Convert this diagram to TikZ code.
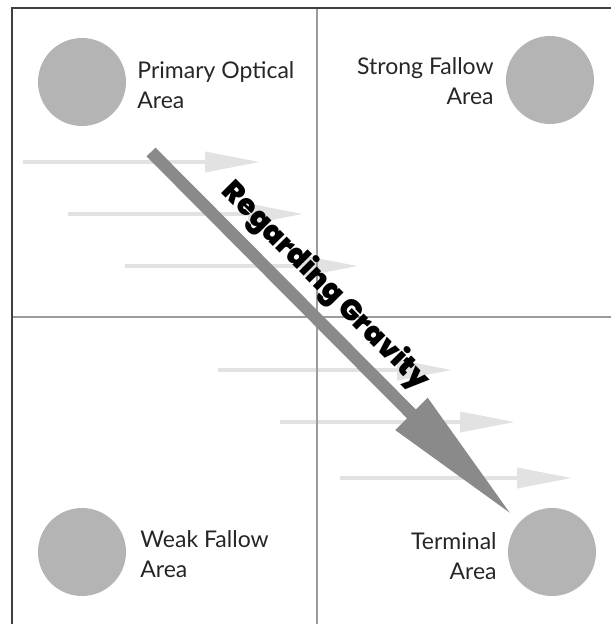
\documentclass[tikz,border=0pt]{standalone}
\usepackage{fontspec}
\setmainfont{Lato}
\newfontfamily\heavyfont{Poppins Black}
\usetikzlibrary{positioning,arrows.meta}
\definecolor{dotgray}{HTML}{B4B4B4}
\definecolor{flowgray}{HTML}{E2E2E2}
\definecolor{gravgray}{HTML}{8A8A8A}
\definecolor{gridgray}{HTML}{9C9C9C}

\begin{document}
\begin{tikzpicture}[
		x=1pt, y=-1pt,
		node distance=12pt,
		area/.style={
			circle,
			fill=dotgray,
			minimum size=88pt,
			inner sep=0pt
		},
		arealabel/.style={
			inner sep=0pt,
			text=black!85,
			font=\fontsize{23}{30}\selectfont
		},
		flow/.style={
			draw=flowgray,
			line width=4pt,
			-{Triangle[length=55pt,width=20pt]}
		},
		gravity/.style={
			draw=gravgray,
			line width=12.5pt,
			-{Triangle[length=144pt,width=42pt]}
		}
		]
		
		\useasboundingbox (0,0) rectangle (611,624);
		
		% flow lines
		\foreach \i/\xa/\xb/\yy in {1/23/260/162, 2/68/303/214, 3/125/358/266,
			4/218/452/370, 5/280/515/422, 6/340/572/478} {
			\coordinate (f\i a) at (\xa,\yy);
			\coordinate (f\i b) at (\xb,\yy);
			\draw[flow] (f\i a)--(f\i b);
		}
		
		% frame and quadrants
		\draw[gridgray, line width=2pt] (317,8)--(317,624);
		\draw[gridgray, line width=2pt] (12,317)--(611,317);
		\draw[black!75, line width=2pt] (12,624)--(12,8)--(611,8);
		
		\node[area] (primary) at (82,82) {};
		\node[area] (strong) at (550,80) {};
		\node[area] (weak) at (82,552) {};
		\node[area] (terminal) at (552,552) {};
		
		\node[arealabel, align=left, right=11pt of primary, yshift=-3pt]
		{Primary Optical\\ Area};
		\node[arealabel, align=right, left=of strong, yshift=-1pt]
		{Strong Fallow\\ Area};
		\node[arealabel, align=left, right=14pt of weak, yshift=-2pt]
		{Weak Fallow\\ Area};
		\node[arealabel, align=right, left=11pt of terminal, yshift=-4pt]
		{Terminal\\ Area};
		
		\coordinate (gstart) at (151,152);
		\coordinate (gend) at (513,516);
		\draw[gravity] (gstart)--(gend)
		node[pos=0.425, sloped, above, yshift=6.5pt, inner sep=0pt,
		font=\fontsize{29}{29}\heavyfont] (gravity) {Regarding Gravity};
		
	\end{tikzpicture}
\end{document}
